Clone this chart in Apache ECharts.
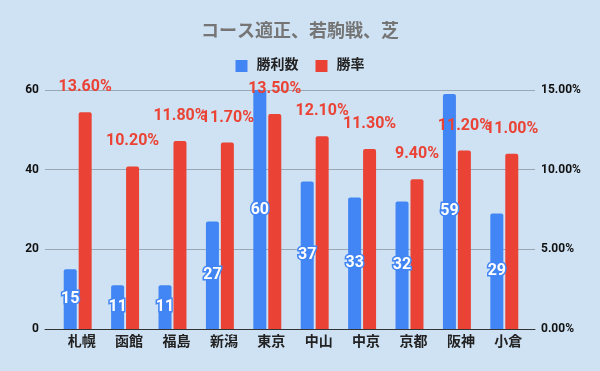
<!DOCTYPE html>
<html>
<head>
<meta charset="utf-8">
<script src="https://cdn.jsdelivr.net/npm/echarts@6/dist/echarts.min.js"></script>
<style>
html,body{margin:0;padding:0;background:#cfe2f3;}
#chart{width:600px;height:371px;}
</style>
</head>
<body>
<div id="chart"></div>
<script>
const titleText = 'コース適正、若駒戦、芝';
const categories = ['札幌','函館','福島','新潟','東京','中山','中京','京都','阪神','小倉'];
const winsName = '勝利数';
const rateName = '勝率';
const wins = [15, 11, 11, 27, 60, 37, 33, 32, 59, 29];
const rates = [13.6, 10.2, 11.8, 11.7, 13.5, 12.1, 11.3, 9.4, 11.2, 11.0];
const leftTicks = {min: 0, max: 60, interval: 20};
const rightTicks = {min: 0, max: 15, interval: 5};

const FONT = 'Roboto, "Noto Sans CJK JP", sans-serif';
const chart = echarts.init(document.getElementById('chart'), null, {renderer: 'canvas'});
const hiddenAxis = {axisLine: {show: false}, axisTick: {show: false}, axisLabel: {show: false}, splitLine: {show: false}};
chart.setOption({
  backgroundColor: '#cfe2f3',
  animation: false,
  title: {
    text: titleText,
    left: 'center',
    top: 19,
    textStyle: {fontFamily: FONT, fontSize: 18, fontWeight: 'bold', color: '#757575'}
  },
  legend: {
    top: 54,
    left: 'center',
    itemWidth: 12,
    itemHeight: 12,
    itemGap: 17,
    icon: 'rect',
    textStyle: {fontFamily: FONT, fontSize: 14, fontWeight: 'bold', color: '#222', padding: [0,0,0,4]},
    data: [winsName, rateName]
  },
  grid: [
    {left: 45, right: 65, top: 90, bottom: 42},
    {left: 54, right: 72, top: 90, bottom: 42}
  ],
  xAxis: [
    {
      type: 'category', gridIndex: 0, data: categories,
      axisTick: {show: false}, axisLabel: {show: false},
      axisLine: {lineStyle: {color: '#333', width: 1}}
    },
    {
      type: 'category', gridIndex: 1, data: categories,
      axisTick: {show: false}, axisLine: {show: false},
      axisLabel: {fontFamily: FONT, fontSize: 14, fontWeight: 'bold', color: '#222', margin: 7, padding: [0,0,0,8]}
    }
  ],
  yAxis: [
    {
      type: 'value', gridIndex: 0, min: leftTicks.min, max: leftTicks.max, interval: leftTicks.interval,
      axisLine: {show: false}, axisTick: {show: false},
      splitLine: {lineStyle: {color: '#9aa8b5', width: 1}},
      axisLabel: {fontFamily: FONT, fontSize: 12, fontWeight: 'bold', color: '#111', margin: 6}
    },
    {
      type: 'value', gridIndex: 0, position: 'right', min: rightTicks.min, max: rightTicks.max, interval: rightTicks.interval,
      axisLine: {show: false}, axisTick: {show: false},
      splitLine: {show: false},
      axisLabel: {fontFamily: FONT, fontSize: 12, fontWeight: 'bold', color: '#111', margin: 6,
        formatter: v => v.toFixed(2) + '%'}
    },
    Object.assign({type: 'value', gridIndex: 1, min: leftTicks.min, max: leftTicks.max, interval: leftTicks.interval}, hiddenAxis),
    Object.assign({type: 'value', gridIndex: 1, position: 'right', min: rightTicks.min, max: rightTicks.max, interval: rightTicks.interval}, hiddenAxis)
  ],
  series: [
    {
      name: winsName, type: 'bar', data: wins, xAxisIndex: 1, yAxisIndex: 2,
      barWidth: 13, barGap: '15%',
      itemStyle: {color: '#4285f4', borderRadius: [2,2,0,0]},
      label: {show: true, position: 'inside', fontFamily: FONT, fontSize: 16, fontWeight: 'bold',
        color: '#fff', textBorderColor: '#4285f4', textBorderWidth: 3}
    },
    {
      name: rateName, type: 'bar', data: rates, xAxisIndex: 1, yAxisIndex: 3,
      barWidth: 13,
      itemStyle: {color: '#ea4335', borderRadius: [2,2,0,0]},
      label: {show: true, position: 'top', distance: 17, fontFamily: FONT, fontSize: 16, fontWeight: 'bold',
        color: '#ea4335', formatter: p => p.value.toFixed(2) + '%'}
    }
  ]
});
</script>
</body>
</html>
